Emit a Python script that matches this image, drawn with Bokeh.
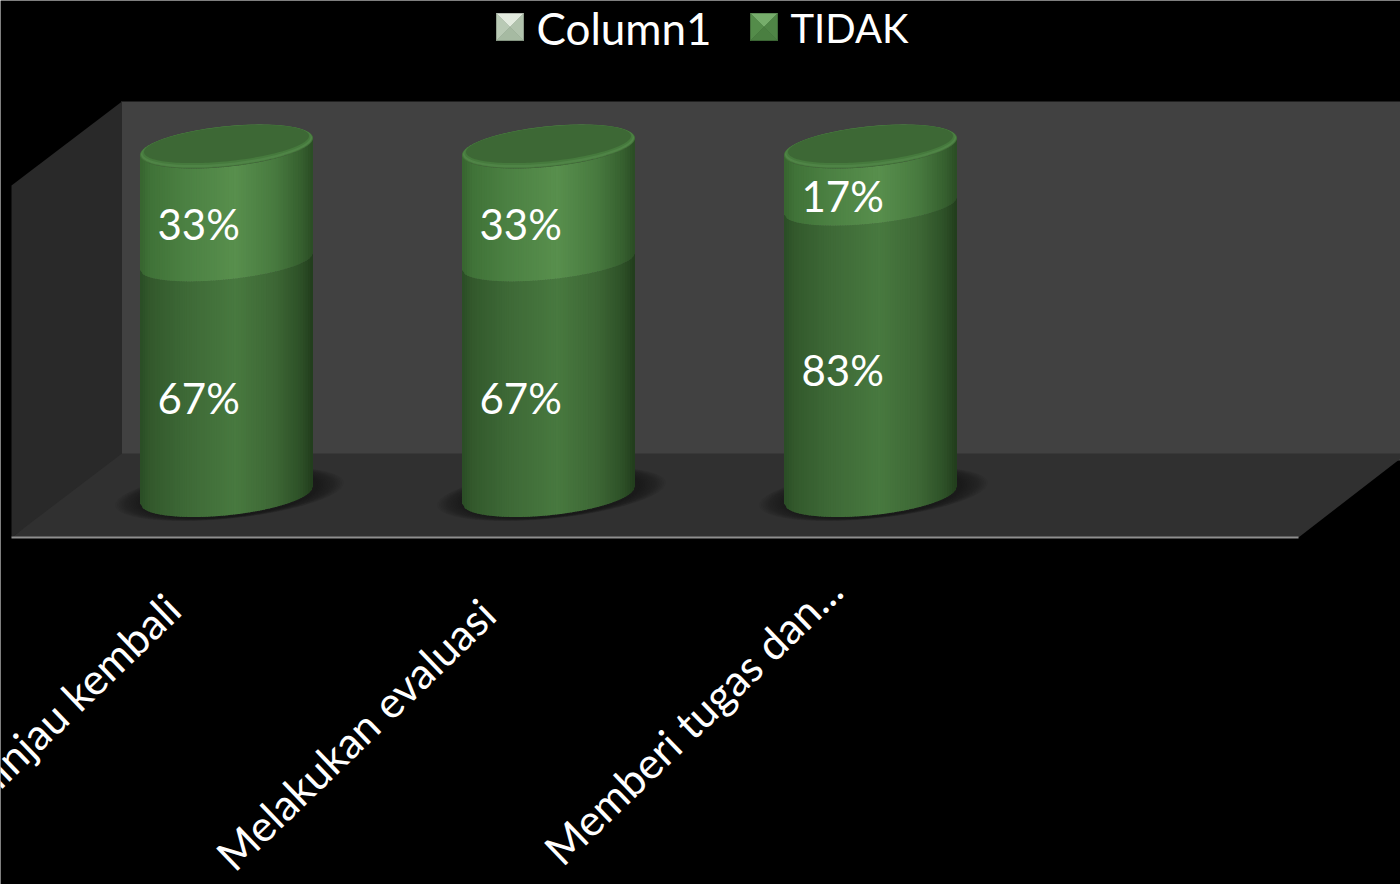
from bokeh.core.properties import value
from bokeh.embed import file_html
from bokeh.models import Range1d
from bokeh.plotting import figure
from bokeh.resources import INLINE
import numpy as np

# Chart values
categories = ["Meninjau kembali", "Melakukan evaluasi", "Memberi tugas dan..."]
column1 = [33, 33, 17]
tidak = [67, 67, 83]
series_names = ["Column1", "TIDAK"]

W, H = 1400, 884
FONT = value("Lato")

# Scale layout: category index on x, percent on y
CAT0_PX, CAT_STEP_PX = 226.0, 322.0
BASE_PX, PX_PER_PCT = 494.5, 3.485

# Right-hand end of each slanted category label, relative to its cylinder
LABEL_END_DX = [-54, -61, -36]
LABEL_END_Y = [601, 606, 582]


def dx(px):
    return (px - CAT0_PX) / CAT_STEP_PX


def dy(py):
    return (BASE_PX - py) / PX_PER_PCT


p = figure(width=W, height=H, output_backend="svg", toolbar_location=None,
           x_range=Range1d(dx(0), dx(W)), y_range=Range1d(dy(H), dy(0)),
           background_fill_color="black", border_fill_color="black",
           min_border=0, outline_line_color=None)
p.axis.visible = False
p.grid.visible = False


def poly(points, color, alpha=1.0, edge=None):
    xs = [dx(a) for a, _ in points]
    ys = [dy(b) for _, b in points]
    p.patch(xs, ys, fill_color=color, line_color=edge, line_width=0.6, fill_alpha=alpha)


# Chart walls and floor, layered so their shared edges leave no seam
poly([(120.5, 101), (W, 101), (W, 460), (120.5, 460)], "#414141")
poly([(11, 185), (121.5, 101), (121.5, 460), (11, 537)], "#292929")
poly([(11, 537), (121.5, 453), (W, 453), (W, 458), (1298, 537)], "#303030")
p.line([dx(11), dx(1298)], [dy(537), dy(537)], line_color="#8e8e8e", line_width=2)

# Cylinder cross-section: a tilted ellipse in screen units
HALF_W = 86.5
SLOPE = -0.098
ARC = 20.3
SPLIT_ARC = 18.0


def arc(u, lower=True, half=HALF_W, arc_h=ARC):
    r = np.sqrt(np.clip(1 - (u / half) ** 2, 0, None))
    return SLOPE * u + (1 if lower else -1) * arc_h * r


def ellipse_outline(cx, cy, half=HALF_W, arc_h=ARC, n=80):
    u = half * np.cos(np.linspace(0, np.pi, n))
    top = [(cx + a, cy + arc(a, False, half, arc_h)) for a in u]
    bottom = [(cx + a, cy + arc(a, True, half, arc_h)) for a in u[::-1]]
    return top + bottom


def shade(stops, t):
    pos = [s[0] for s in stops]
    rgb = [np.interp(t, pos, [int(s[1][i:i + 2], 16) for s in stops]) for i in (1, 3, 5)]
    return "#%02x%02x%02x" % tuple(int(round(c)) for c in rgb)


LOWER_SHADE = [(0, "#2a4c25"), (0.06, "#33592c"), (0.25, "#3d6836"), (0.55, "#48793f"),
               (0.78, "#3d6735"), (0.93, "#2d5027"), (1, "#213c1c")]
UPPER_SHADE = [(0, "#37642f"), (0.06, "#407338"), (0.25, "#4b8042"), (0.55, "#588f4d"),
               (0.78, "#487a3f"), (0.93, "#36602f"), (1, "#2a4c24")]
N_STRIPS = 70


def barrel(cx, bottom_py, top_py, stops, bottom_arc, top_arc):
    # Left-to-right strips, each overlapping its right neighbour so no seams show
    edges = np.linspace(-HALF_W, HALF_W, N_STRIPS + 1)
    xs, ys, colors = [], [], []
    for a, b in zip(edges[:-1], edges[1:]):
        c = min(b + 1.5, HALF_W)
        xs.append([dx(cx + v) for v in (a, c, c, a)])
        ys.append([dy(bottom_py + arc(a, arc_h=bottom_arc)), dy(bottom_py + arc(c, arc_h=bottom_arc)),
                   dy(top_py + arc(c, arc_h=top_arc)), dy(top_py + arc(a, arc_h=top_arc))])
        colors.append(shade(stops, ((a + b) / 2 + HALF_W) / (2 * HALF_W)))
    p.patches(xs, ys, fill_color=colors, line_color=None)


for i, (top_share, low_share) in enumerate(zip(column1, tidak)):
    cx = CAT0_PX + i * CAT_STEP_PX
    split_py = BASE_PX - low_share * PX_PER_PCT
    top_py = split_py - top_share * PX_PER_PCT

    # Soft floor shadow
    for grow in np.linspace(1.32, 1.02, 16):
        poly(ellipse_outline(cx + 3, BASE_PX - 1, HALF_W * grow, ARC * (0.75 + 0.35 * grow)),
             "#141414", 0.055)

    barrel(cx, BASE_PX, split_py, LOWER_SHADE, ARC, SPLIT_ARC)
    barrel(cx, split_py, top_py, UPPER_SHADE, SPLIT_ARC, ARC)

    # Top face: the rim only catches light along its lower edge
    poly(ellipse_outline(cx, top_py), "#437339")
    poly(ellipse_outline(cx, top_py - 0.4, HALF_W - 1, ARC - 0.5), "#4f8446")
    poly(ellipse_outline(cx, top_py - 1.5, HALF_W - 2.5, ARC - 2), "#467a3d")
    poly(ellipse_outline(cx, top_py - 2.5, HALF_W - 4, ARC - 3), "#3d6835")

    # Percentage labels
    label_x = dx(cx - 69)
    for share, lo, hi in ((low_share, BASE_PX, split_py), (top_share, split_py, top_py)):
        p.text([label_x], [dy((lo + hi) / 2 + 20)], text=[f"{share}%"], text_color="white",
               text_font=FONT, text_font_size="42px", text_align="left",
               text_baseline="middle")

    # Slanted category labels
    p.text([dx(cx + LABEL_END_DX[i])], [dy(LABEL_END_Y[i])], text=[categories[i]],
           text_color="white", text_font=FONT, text_font_size="43px", text_align="right",
           text_baseline="middle", angle=44, angle_units="deg")

# Legend with bevelled swatches
SWATCH_LEFT = [496, 750]
SWATCH_FACES = [("#e3ebdf", "#b9cab5", "#b1c3ad", "#a6baa2"),
                ("#76ad6b", "#548c4a", "#4f8546", "#4a7f41")]
LEGEND_SIZE = ["44px", "40px"]
for name, left, faces, size in zip(series_names, SWATCH_LEFT, SWATCH_FACES, LEGEND_SIZE):
    l, r, t, b = left, left + 27, 13, 40
    mx, my = (l + r) / 2, (t + b) / 2
    poly([(l, t), (r, t), (mx, my)], faces[0], edge=faces[0])
    poly([(l, t), (mx, my), (l, b)], faces[1], edge=faces[1])
    poly([(r, t), (mx, my), (r, b)], faces[2], edge=faces[2])
    poly([(l, b), (r, b), (mx, my)], faces[3], edge=faces[3])
    p.text([dx(left + 40)], [dy(27)], text=[name], text_color="white", text_font=FONT,
           text_font_size=size, text_align="left", text_baseline="middle")

open("out.html", "w").write(file_html(p, INLINE))
